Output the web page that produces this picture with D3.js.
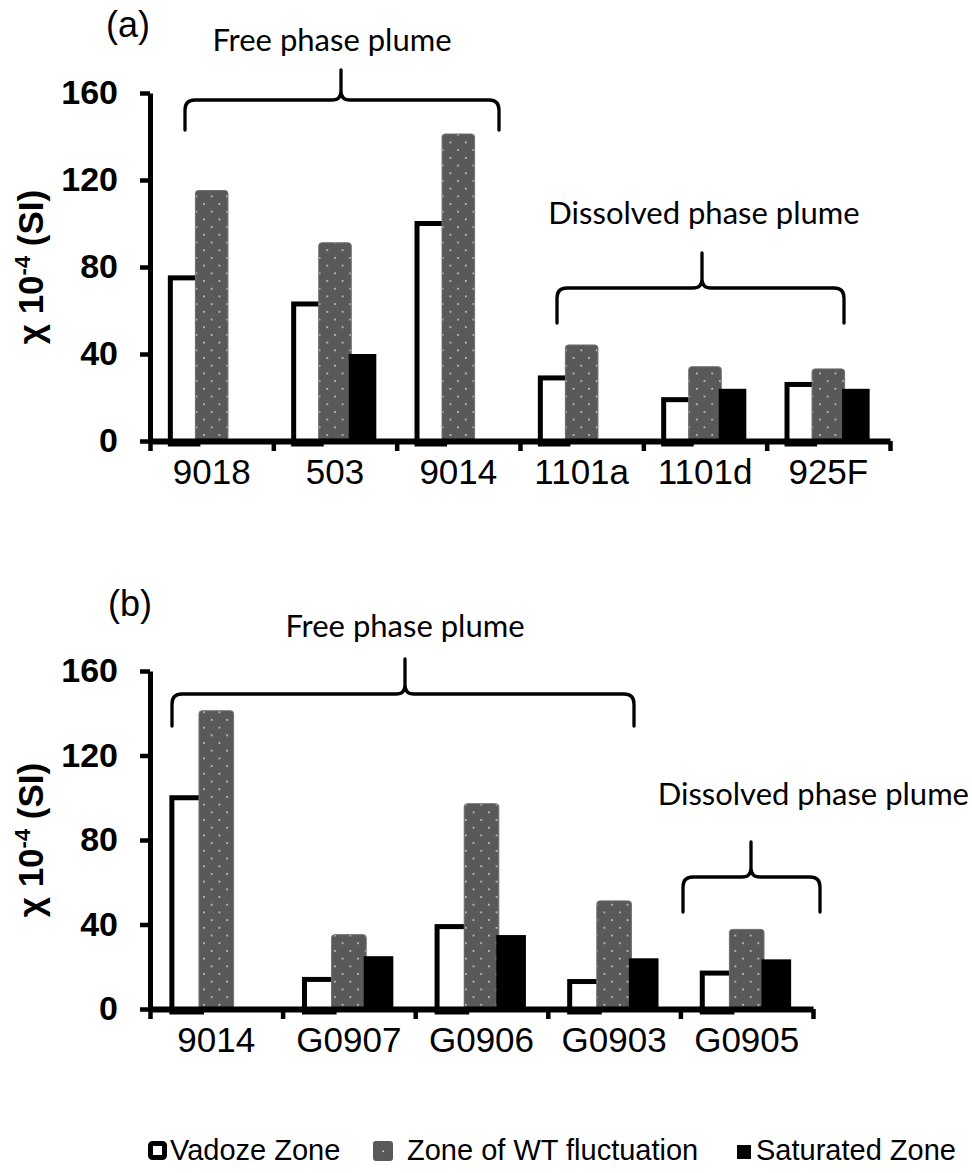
<!DOCTYPE html>
<html>
<head>
<meta charset="utf-8">
<script src="https://cdn.jsdelivr.net/npm/d3@7"></script>
<style>
  body { margin: 0; background: #fff; }
  svg { display: block; }
</style>
</head>
<body>
<svg id="chart" width="972" height="1173"></svg>
<script>
// Magnetic susceptibility by zone, per well
const seriesNames = ["Vadoze Zone", "Zone of WT fluctuation", "Saturated Zone"];

const wellsA = ["9018", "503", "9014", "1101a", "1101d", "925F"];
const vadozeA = [75, 63, 100, 29, 19, 26];
const fluctA = [114, 90, 140, 43, 33, 32];
const saturatedA = [null, 40, null, null, 24, 24];

const wellsB = ["9014", "G0907", "G0906", "G0903", "G0905"];
const vadozeB = [100, 14, 39, 13, 17];
const fluctB = [140, 34, 96, 50, 36.5];
const saturatedB = [null, 25, 35, 24, 23.5];

const yTicks = [0, 40, 80, 120, 160];

const svg = d3.select("#chart");
const defs = svg.append("defs");

// Dotted grey fill for the water-table fluctuation bars
const pat = defs.append("pattern")
  .attr("id", "dots")
  .attr("patternUnits", "userSpaceOnUse")
  .attr("width", 15.4).attr("height", 15.4);
pat.append("rect").attr("width", 15.4).attr("height", 15.4).attr("fill", "#595959");
pat.append("rect").attr("x", 3).attr("y", 3).attr("width", 1.6).attr("height", 1.6).attr("fill", "#d8d8d8");
pat.append("rect").attr("x", 10.7).attr("y", 10.7).attr("width", 1.6).attr("height", 1.6).attr("fill", "#d8d8d8");

const AXIS_FONT = "'Liberation Sans', Arial, sans-serif";
const NOTE_FONT = "Lato, 'Open Sans', sans-serif";

// Curly brace opening downwards, with a pointed tip on top
function bracePath(x1, x2, yH, yEnd, yPeak, xm) {
  const r = 10, r2 = 9;
  return `M${x1},${yEnd} L${x1},${yH + r} Q${x1},${yH} ${x1 + r},${yH} L${xm - r2},${yH} Q${xm},${yH} ${xm},${yH - r2} L${xm},${yPeak}` +
         ` M${xm},${yPeak} L${xm},${yH - r2} Q${xm},${yH} ${xm + r2},${yH} L${x2 - r},${yH} Q${x2},${yH} ${x2},${yH + r} L${x2},${yEnd}`;
}

function drawPanel(cfg) {
  const g = svg.append("g");
  const { wells, vadoze, fluct, saturated } = cfg;

  const y = d3.scaleLinear().domain([0, 160]).range([cfg.y0, cfg.yTop]);
  const xCat = d3.scaleBand().domain(wells).range([cfg.x0, cfg.x1]).padding(0);
  const bw = xCat.bandwidth();
  const groupW = bw * 0.67;
  const xSer = d3.scaleBand().domain([0, 1, 2]).range([0, groupW]).padding(0);
  const off = (bw - groupW) / 2;
  const sw = xSer.bandwidth();

  const rows = wells.map((w, i) => ({ w, v: vadoze[i], f: fluct[i], s: saturated[i] }));

  // Vadose zone: open bars with a heavy black outline
  g.selectAll(".vad").data(rows.filter(d => d.v != null)).join("rect")
    .attr("x", d => xCat(d.w) + off + xSer(0))
    .attr("y", d => y(d.v))
    .attr("width", sw)
    .attr("height", d => cfg.y0 - y(d.v) + 3)
    .attr("fill", "#fff").attr("stroke", "#000").attr("stroke-width", 5);

  // Water-table fluctuation zone: dotted grey bars
  g.selectAll(".flu").data(rows.filter(d => d.f != null)).join("rect")
    .attr("x", d => xCat(d.w) + off + xSer(1) - 2.5)
    .attr("y", d => y(d.f) - 2.5)
    .attr("width", sw + 5)
    .attr("height", d => cfg.y0 - y(d.f) + 2.5)
    .attr("rx", 3)
    .attr("fill", "url(#dots)").attr("stroke", "#707070").attr("stroke-width", 1);

  // Saturated zone: solid black bars
  g.selectAll(".sat").data(rows.filter(d => d.s != null)).join("rect")
    .attr("x", d => xCat(d.w) + off + xSer(2))
    .attr("y", d => y(d.s))
    .attr("width", sw)
    .attr("height", d => cfg.y0 - y(d.s))
    .attr("fill", "#000");

  // Y axis
  const yAx = g.append("g").attr("transform", `translate(${cfg.x0},0)`)
    .call(d3.axisLeft(y).tickValues(yTicks).tickSize(10).tickSizeOuter(0).tickPadding(cfg.yPad));
  yAx.select(".domain").attr("stroke-width", 5).attr("stroke", "#000");
  yAx.selectAll(".tick line").attr("stroke-width", 4.5).attr("stroke", "#000");
  yAx.selectAll(".tick text")
    .attr("font-family", AXIS_FONT).attr("font-weight", "bold").attr("font-size", 34).attr("fill", "#000");

  // X axis: tick marks at the category boundaries
  const xBound = d3.scaleLinear().domain([0, wells.length]).range([cfg.x0, cfg.x1]);
  const xAx = g.append("g").attr("transform", `translate(0,${cfg.y0})`)
    .call(d3.axisBottom(xBound).tickValues(d3.range(wells.length + 1)).tickSize(10).tickSizeOuter(0).tickFormat(""));
  xAx.select(".domain").attr("stroke-width", 6).attr("stroke", "#000");
  xAx.selectAll(".tick line").attr("stroke-width", 4.5).attr("stroke", "#000");

  // Well names centred under each category
  const xLab = g.append("g").attr("transform", `translate(0,${cfg.y0})`)
    .call(d3.axisBottom(xCat).tickSize(0).tickPadding(18));
  xLab.select(".domain").remove();
  xLab.selectAll(".tick text")
    .attr("font-family", AXIS_FONT).attr("font-size", 35).attr("fill", "#000");

  // Y axis title
  const yt = g.append("text")
    .attr("transform", `translate(${cfg.titleX},${(cfg.y0 + cfg.yTop) / 2}) rotate(-90)`)
    .attr("text-anchor", "middle")
    .attr("font-family", AXIS_FONT).attr("font-weight", "bold").attr("font-size", 35).attr("fill", "#000");
  yt.append("tspan").text("χ 10");
  yt.append("tspan").attr("font-size", 22).attr("dy", -13).text("-4");
  yt.append("tspan").attr("dy", 13).text(" (SI)");

  // Panel letter
  g.append("text").attr("x", cfg.letterX).attr("y", cfg.letterY)
    .attr("font-family", AXIS_FONT).attr("font-size", 36).attr("fill", "#000").text(cfg.letter);

  // Plume annotations with braces
  cfg.notes.forEach(n => {
    g.append("text").attr("x", n.tx).attr("y", n.ty).attr("text-anchor", n.anchor || "middle")
      .attr("font-family", NOTE_FONT).attr("font-size", n.size || 31).attr("fill", "#000").text(n.text);
    g.append("path").attr("d", bracePath(n.x1, n.x2, n.yH, n.yEnd, n.yPeak, n.xm))
      .attr("fill", "none").attr("stroke", "#000").attr("stroke-width", 3.3)
      .attr("stroke-linecap", "round").attr("stroke-linejoin", "round");
  });
}

drawPanel({
  wells: wellsA, vadoze: vadozeA, fluct: fluctA, saturated: saturatedA,
  x0: 150, x1: 890, y0: 441, yTop: 93, titleX: 43, yPad: 22,
  letter: "(a)", letterX: 106, letterY: 37,
  notes: [
    { text: "Free phase plume", tx: 332, ty: 51, x1: 185, x2: 499, yH: 100, yEnd: 130, yPeak: 70, xm: 341 },
    { text: "Dissolved phase plume", tx: 704, ty: 224, x1: 557, x2: 844, yH: 288, yEnd: 323, yPeak: 253, xm: 702 }
  ]
});

drawPanel({
  wells: wellsB, vadoze: vadozeB, fluct: fluctB, saturated: saturatedB,
  x0: 150, x1: 813, y0: 1009, yTop: 671, titleX: 43, yPad: 22,
  letter: "(b)", letterX: 108, letterY: 616,
  notes: [
    { text: "Free phase plume", tx: 405, ty: 637, x1: 172, x2: 634, yH: 694, yEnd: 726, yPeak: 659, xm: 405 },
    { text: "Dissolved phase plume", tx: 969, ty: 805, anchor: "end", size: 31, x1: 683, x2: 820, yH: 877, yEnd: 912, yPeak: 842, xm: 751 }
  ]
});

// Legend
const legend = svg.append("g").attr("font-family", AXIS_FONT).attr("font-size", 29);
const LEG_Y = 1160;
const legendItems = [
  { name: seriesNames[0], x: 148, kind: "open" },
  { name: seriesNames[1], x: 373, kind: "dots" },
  { name: seriesNames[2], x: 737, kind: "solid" }
];
legendItems.forEach(it => {
  if (it.kind === "open") {
    legend.append("rect").attr("x", it.x + 2.5).attr("y", LEG_Y - 16.5).attr("width", 14).attr("height", 14)
      .attr("rx", 2).attr("fill", "#fff").attr("stroke", "#000").attr("stroke-width", 5);
    legend.append("text").attr("x", it.x + 22).attr("y", LEG_Y).text(it.name);
  } else if (it.kind === "dots") {
    legend.append("rect").attr("x", it.x).attr("y", LEG_Y - 19).attr("width", 20).attr("height", 20)
      .attr("rx", 3).attr("fill", "#595959");
    legend.append("rect").attr("x", it.x + 9.5).attr("y", LEG_Y - 9.5).attr("width", 1.6).attr("height", 1.6).attr("fill", "#d8d8d8");
    legend.append("text").attr("x", it.x + 34).attr("y", LEG_Y).text(it.name);
  } else {
    legend.append("rect").attr("x", it.x).attr("y", LEG_Y - 15).attr("width", 14).attr("height", 14).attr("fill", "#000");
    legend.append("text").attr("x", it.x + 19).attr("y", LEG_Y).text(it.name);
  }
});
</script>
</body>
</html>
